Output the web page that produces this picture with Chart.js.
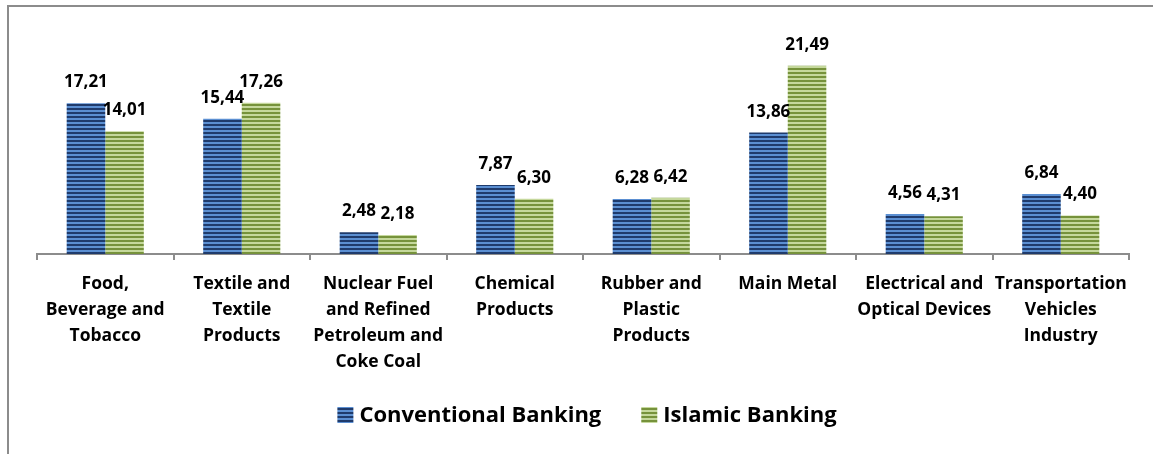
<!DOCTYPE html>
<html>
<head>
<meta charset="utf-8">
<script src="https://cdn.jsdelivr.net/npm/chart.js@4"></script>
<style>
  html, body { margin: 0; padding: 0; background: #fff; }
  #wrap { position: relative; width: 1153px; height: 454px; overflow: hidden; }
  #frame { position: absolute; left: 7px; top: 5px; width: 1200px; height: 500px;
           border-left: 2px solid #8c8c8c; border-top: 2px solid #8c8c8c; }
  canvas { position: absolute; left: 0; top: 0; }
</style>
</head>
<body>
<div id="wrap">
  <div id="frame"></div>
  <canvas id="myChart" width="1153" height="454"></canvas>
</div>
<script>
// sectors (x axis, wrapped the way the picture wraps them)
const categories = [
  ["Food,", "Beverage and", "Tobacco"],
  ["Textile and", "Textile", "Products"],
  ["Nuclear Fuel", "and Refined", "Petroleum and", "Coke Coal"],
  ["Chemical", "Products"],
  ["Rubber and", "Plastic", "Products"],
  ["Main Metal"],
  ["Electrical and", "Optical Devices"],
  ["Transportation", "Vehicles", "Industry"]
];
const seriesNames = ["Conventional Banking", "Islamic Banking"];
const conventional = [17.21, 15.44, 2.48, 7.87, 6.28, 13.86, 4.56, 6.84];
const islamic = [14.01, 17.26, 2.18, 6.30, 6.42, 21.49, 4.31, 4.40];

const FONT = "'Open Sans', 'Noto Sans', sans-serif";

// striped fills like the excel pattern
function stripes(dark, light) {
  const c = document.createElement("canvas");
  c.width = 4;
  c.height = 4;
  const g = c.getContext("2d");
  g.fillStyle = light;
  g.fillRect(0, 0, 4, 4);
  g.fillStyle = dark;
  g.fillRect(0, 0, 4, 2);
  return g.createPattern(c, "repeat");
}
const bluePattern = stripes("#1f3b6c", "#5b8fd2");
const greenPattern = stripes("#76923b", "#c5d89c");

// values above bars, comma decimals
const valueLabels = {
  id: "valueLabels",
  afterDatasetsDraw(chart) {
    const ctx = chart.ctx;
    ctx.save();
    ctx.font = "bold 17px " + FONT;
    ctx.fillStyle = "#000";
    ctx.textAlign = "center";
    ctx.textBaseline = "alphabetic";
    chart.data.datasets.forEach((ds, i) => {
      chart.getDatasetMeta(i).data.forEach((bar, j) => {
        const txt = ds.data[j].toFixed(2).replace(".", ",");
        ctx.fillText(txt, bar.x, bar.y - 16);
      });
    });
    ctx.restore();
  }
};

// legend drawn by hand so the gaps match the excel one
const bottomLegend = {
  id: "bottomLegend",
  afterDraw(chart) {
    const ctx = chart.ctx;
    const box = 16, gap = 6, spacing = 40, y = 415;
    ctx.save();
    ctx.font = "bold 22px " + FONT;
    ctx.textBaseline = "middle";
    ctx.textAlign = "left";
    const items = chart.data.datasets.map((ds) => ({
      text: ds.label, fill: ds.backgroundColor, w: ctx.measureText(ds.label).width
    }));
    let total = 0;
    items.forEach((it, i) => { total += box + gap + it.w + (i ? spacing : 0); });
    let x = (chart.chartArea.left + chart.chartArea.right) / 2 + 4 - total / 2;
    items.forEach((it) => {
      ctx.fillStyle = it.fill;
      ctx.fillRect(x, y - box / 2, box, box);
      ctx.fillStyle = "#000";
      ctx.fillText(it.text, x + box + gap, y + 1);
      x += box + gap + it.w + spacing;
    });
    ctx.restore();
  }
};

const ctx = document.getElementById("myChart").getContext("2d");
const myChart = new Chart(ctx, {
  type: "bar",
  data: {
    labels: categories,
    datasets: [
      { label: seriesNames[0], data: conventional, backgroundColor: bluePattern, borderWidth: 0 },
      { label: seriesNames[1], data: islamic, backgroundColor: greenPattern, borderWidth: 0 }
    ]
  },
  options: {
    responsive: false,
    animation: false,
    layout: { padding: { left: 37, right: 24, top: 35, bottom: 68 } },
    datasets: {
      bar: { barPercentage: 1, categoryPercentage: 0.565 }
    },
    scales: {
      y: { display: false, min: 0, max: 25 },
      x: {
        offset: true,
        border: { display: true, color: "#8c8c8c", width: 2 },
        grid: {
          offset: true,
          drawOnChartArea: false,
          drawTicks: true,
          tickLength: 6,
          color: "#8c8c8c",
          lineWidth: 2
        },
        ticks: {
          color: "#000",
          padding: 11,
          maxRotation: 0,
          autoSkip: false,
          font: { family: FONT, size: 17.5, weight: "bold", lineHeight: 1.486 }
        }
      }
    },
    plugins: {
      tooltip: { enabled: false },
      legend: { display: false }
    }
  },
  plugins: [valueLabels, bottomLegend]
});
</script>
</body>
</html>
